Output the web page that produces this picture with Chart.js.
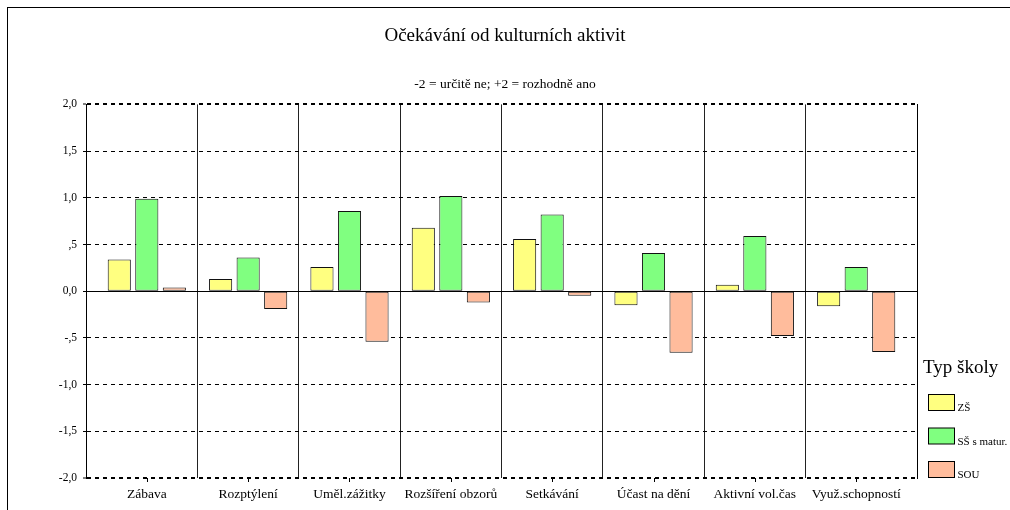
<!DOCTYPE html>
<html>
<head>
<meta charset="utf-8">
<script src="https://cdn.jsdelivr.net/npm/chart.js@4/dist/chart.umd.min.js"></script>
<style>
  html, body { margin: 0; padding: 0; background: #fff; }
  #wrap { width: 1010px; height: 510px; }
</style>
</head>
<body>
<div id="wrap"><canvas id="c" width="1010" height="510"></canvas></div>
<script>
const chartTitle = 'Očekávání od kulturních aktivit';
const chartSubtitle = '-2 = určitě ne; +2 = rozhodně ano';
const legendTitle = 'Typ školy';
const categories = ['Zábava', 'Rozptýlení', 'Uměl.zážitky', 'Rozšíření obzorů', 'Setkávání', 'Účast na dění', 'Aktivní vol.čas', 'Využ.schopností'];
const seriesNames = ['ZŠ', 'SŠ s matur.', 'SOU'];
const zsValues  = [0.34, 0.13, 0.26, 0.68, 0.56, -0.15, 0.07, -0.16];
const ssValues  = [0.99, 0.36, 0.86, 1.02, 0.82, 0.41, 0.59, 0.26];
const souValues = [0.04, -0.19, -0.54, -0.12, -0.05, -0.66, -0.48, -0.65];
const yTickLabels = ['-2,0', '-1,5', '-1,0', '-,5', '0,0', ',5', '1,0', '1,5', '2,0'];
const colors = ['#FFFF80', '#80FF80', '#FFBC9C'];

Chart.defaults.font.family = "'Liberation Serif', 'Times New Roman', serif";
Chart.defaults.color = '#000';

function toPoints(arr) { return arr.map((v, i) => ({ x: i, y: v })); }

const decor = {
  id: 'decor',
  beforeDraw(chart) {
    const ctx = chart.ctx;
    ctx.save();
    ctx.fillStyle = '#fff';
    ctx.fillRect(0, 0, chart.width, chart.height);
    ctx.restore();
  },
  afterDraw(chart) {
    const { ctx, chartArea: a } = chart;
    const x = chart.scales.x;
    ctx.save();
    ctx.strokeStyle = '#000';
    ctx.lineWidth = 1;
    ctx.strokeRect(7.5, 7.5, chart.width + 20, chart.height + 20);
    // category tick marks
    ctx.beginPath();
    categories.forEach((c, i) => {
      const px = Math.round(x.getPixelForValue(i)) + 0.5;
      ctx.moveTo(px, a.bottom);
      ctx.lineTo(px, a.bottom + 4);
    });
    ctx.stroke();
    // legend
    const lx = a.right + 6;
    ctx.fillStyle = '#000';
    ctx.font = "19px 'Liberation Serif'";
    ctx.textBaseline = 'alphabetic';
    ctx.textAlign = 'left';
    ctx.fillText(legendTitle, lx, 373);
    chart.data.datasets.forEach((ds, i) => {
      const by = 394 + i * 33.5;
      const bx = a.right + 11.5;
      ctx.fillStyle = ds.backgroundColor;
      ctx.fillRect(bx, by + 0.5, 26, 16);
      ctx.strokeStyle = '#000';
      ctx.strokeRect(bx, by + 0.5, 26, 16);
      ctx.fillStyle = '#000';
      ctx.font = "11px 'Liberation Serif'";
      ctx.fillText(ds.label, bx + 29, by + 17);
    });
    ctx.restore();
  }
};

new Chart(document.getElementById('c'), {
  type: 'bar',
  data: {
    datasets: [
      { label: seriesNames[0], data: toPoints(zsValues),  backgroundColor: colors[0], xAxisID: 'x', yAxisID: 'y' },
      { label: seriesNames[1], data: toPoints(ssValues),  backgroundColor: colors[1], xAxisID: 'x', yAxisID: 'y' },
      { label: seriesNames[2], data: toPoints(souValues), backgroundColor: colors[2], xAxisID: 'x', yAxisID: 'y' }
    ]
  },
  options: {
    responsive: false,
    animation: false,
    devicePixelRatio: 1,
    layout: { padding: 0 },
    datasets: {
      bar: {
        borderColor: '#111',
        borderWidth: 1,
        borderSkipped: false,
        categoryPercentage: 0.815,
        barPercentage: 0.84
      }
    },
    plugins: {
      legend: { display: false },
      tooltip: { enabled: false },
      title: {
        display: true, text: chartTitle, color: '#000',
        font: { size: 19, weight: 'normal', lineHeight: 1.2 },
        padding: { top: 24.5, bottom: 0 }
      },
      subtitle: {
        display: true, text: chartSubtitle, color: '#000',
        font: { size: 13.5, weight: 'normal', lineHeight: 1.2 },
        padding: { top: 29.2, bottom: 11.7 }
      }
    },
    scales: {
      x: {
        type: 'linear',
        position: 'bottom',
        offset: false,
        min: -0.6,
        max: 7.6,
        afterBuildTicks: s => { s.ticks = categories.map((c, i) => ({ value: i })); },
        afterFit: s => { s.height = 32; },
        ticks: {
          autoSkip: false, maxRotation: 0, minRotation: 0, padding: 8,
          color: '#000', font: { size: 13.5 },
          callback: (v, i) => categories[i]
        },
        grid: {
          offset: true, drawTicks: false, lineWidth: 1,
          color: c => (c.type !== 'tick' || c.index === 0 || c.index >= categories.length) ? 'rgba(0,0,0,0)' : '#222'
        },
        border: { display: false }
      },
      y: {
        position: 'left',
        min: -2, max: 2,
        afterFit: s => { s.width = 86; },
        ticks: {
          stepSize: 0.5, padding: 6, color: '#000', font: { size: 11.5 },
          callback: (v, i) => yTickLabels[i]
        },
        grid: {
          color: '#000',
          lineWidth: c => (c.tick && Math.abs(c.tick.value) === 2) ? 2 : 1,
          tickLength: 3, tickColor: '#000', tickWidth: 1
        },
        border: {
          display: true, color: '#000', width: 1,
          dash: c => (c.tick && c.tick.value === 0) ? [] : [4, 4]
        }
      },
      yR: {
        position: 'right',
        display: true,
        min: -2, max: 2,
        afterFit: s => { s.width = 93; },
        grid: { display: false, drawOnChartArea: false, drawTicks: false },
        ticks: { display: false },
        border: { display: true, color: '#000', width: 1 }
      }
    }
  },
  plugins: [decor]
});
</script>
</body>
</html>
